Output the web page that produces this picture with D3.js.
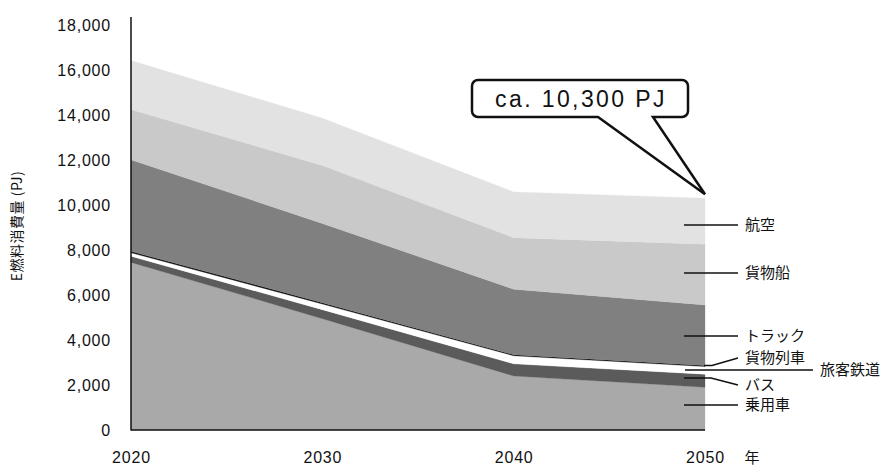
<!DOCTYPE html>
<html>
<head>
<meta charset="utf-8">
<script src="https://cdn.jsdelivr.net/npm/d3@7"></script>
<style>
  html, body { margin: 0; padding: 0; background: #fff; }
  svg { display: block; }
  text { font-family: "Liberation Sans", Arial, "Noto Sans CJK JP", sans-serif; fill: #111; }
  .jp { font-family: "Noto Sans CJK JP", "Liberation Sans", sans-serif; }
</style>
</head>
<body>
<svg id="chart" width="882" height="466"></svg>
<script>
// ---- data ----
const years = [2020, 2030, 2040, 2050];
const seriesNames = ["乗用車", "バス", "旅客鉄道", "貨物列車", "トラック", "貨物船", "航空"];
const passengerCar = [7450, 4950, 2400, 1900];
const bus          = [270, 400, 540, 580];
const passengerRail= [160, 250, 360, 340];
const freightRail  = [60, 60, 50, 50];
const truck        = [4070, 3520, 2910, 2690];
const cargoShip    = [2230, 2580, 2290, 2700];
const aviation     = [2180, 2100, 2030, 2040];
const yTickValues  = [0, 2000, 4000, 6000, 8000, 10000, 12000, 14000, 16000, 18000];
const yAxisTitle   = "E燃料消費量 (PJ)";
const xUnit        = "年";
const calloutText  = "ca. 10,300 PJ";

const seriesValues = [passengerCar, bus, passengerRail, freightRail, truck, cargoShip, aviation];
const colors = ["#a9a9a9", "#5b5b5b", "#ffffff", "#111111", "#808080", "#c9c9c9", "#e2e2e2"];

const table = years.map((yr, i) => {
  const row = { year: yr };
  seriesNames.forEach((s, k) => { row[s] = seriesValues[k][i]; });
  return row;
});

const svg = d3.select("#chart");
const x = d3.scaleLinear().domain([2020, 2050]).range([131, 705]);
const y = d3.scaleLinear().domain([0, 18000]).range([430, 25]);

const stacked = d3.stack().keys(seriesNames)(table);
const area = d3.area()
  .x(d => x(d.data.year))
  .y0(d => y(d[0]))
  .y1(d => y(d[1]));

svg.append("g").selectAll("path")
  .data(stacked)
  .join("path")
  .attr("d", area)
  .attr("fill", (d, i) => colors[i])
  .attr("stroke", (d, i) => colors[i])
  .attr("stroke-width", 0.3);

// axes
const yAxis = d3.axisLeft(y).tickValues(yTickValues).tickSize(0).tickPadding(20)
  .tickFormat(d3.format(","));
const gy = svg.append("g").attr("transform", `translate(${x(2020)},0)`).call(yAxis);
gy.select(".domain").remove();
gy.selectAll("text").attr("font-size", 16).attr("letter-spacing", "0.8px")
  .attr("font-family", "Liberation Sans, Arial, sans-serif").attr("fill", "#111");

const xAxis = d3.axisBottom(x).tickValues(years).tickSize(0).tickPadding(22)
  .tickFormat(d3.format("d"));
const gx = svg.append("g").attr("transform", `translate(0,${y(0)})`).call(xAxis);
gx.select(".domain").remove();
gx.selectAll("text").attr("font-size", 16).attr("letter-spacing", "0.8px")
  .attr("font-family", "Liberation Sans, Arial, sans-serif").attr("fill", "#111");

// axis lines
svg.append("line")
  .attr("x1", x(2020)).attr("x2", x(2020))
  .attr("y1", y(18000) - 8).attr("y2", y(0) + 0.5)
  .attr("stroke", "#111").attr("stroke-width", 1.5);
svg.append("line")
  .attr("x1", x(2020)).attr("x2", x(2050))
  .attr("y1", y(0)).attr("y2", y(0))
  .attr("stroke", "#111").attr("stroke-width", 1.5);

// unit label
svg.append("text").attr("class", "jp")
  .attr("x", 752).attr("y", y(0) + 33)
  .attr("text-anchor", "middle").attr("font-size", 15)
  .text(xUnit);

// y axis title
svg.append("text").attr("class", "jp")
  .attr("transform", `translate(22,226) rotate(-90)`)
  .attr("text-anchor", "middle").attr("font-size", 14)
  .attr("letter-spacing", "0.5px")
  .text(yAxisTitle);

// right-side labels with leader lines
const labelLayout = [
  { name: "航空",     pts: [[684, 225], [738, 225]], tx: 745, ty: 225 },
  { name: "貨物船",   pts: [[684, 273], [738, 273]], tx: 745, ty: 273 },
  { name: "トラック", pts: [[684, 336], [738, 336]], tx: 745, ty: 336 },
  { name: "貨物列車", pts: [[704, 365.5], [712, 365.5], [738, 358]], tx: 745, ty: 358 },
  { name: "旅客鉄道", pts: [[685, 370], [813, 370]], tx: 820, ty: 370 },
  { name: "バス",     pts: [[684, 378], [711, 378], [738, 385]], tx: 745, ty: 385 },
  { name: "乗用車",   pts: [[684, 405], [738, 405]], tx: 745, ty: 405 }
];
const lab = svg.append("g");
labelLayout.forEach(l => {
  lab.append("path")
    .attr("d", d3.line()(l.pts))
    .attr("fill", "none").attr("stroke", "#111").attr("stroke-width", 1.5);
  lab.append("text").attr("class", "jp")
    .attr("x", l.tx).attr("y", l.ty).attr("dy", "0.36em")
    .attr("font-size", 15)
    .text(l.name);
});

// callout
const total2050 = d3.sum(seriesValues, s => s[3]);
const tipX = x(2050), tipY = y(total2050) - 4;
const bx = 472, by = 80, bw = 216, bh = 37, r = 6;
const baseL = 598, baseR = 653;
const callPath = d3.path();
callPath.moveTo(bx + r, by);
callPath.lineTo(bx + bw - r, by);
callPath.arcTo(bx + bw, by, bx + bw, by + r, r);
callPath.lineTo(bx + bw, by + bh - r);
callPath.arcTo(bx + bw, by + bh, bx + bw - r, by + bh, r);
callPath.lineTo(baseR, by + bh);
callPath.lineTo(tipX, tipY);
callPath.lineTo(baseL, by + bh);
callPath.lineTo(bx + r, by + bh);
callPath.arcTo(bx, by + bh, bx, by + bh - r, r);
callPath.lineTo(bx, by + r);
callPath.arcTo(bx, by, bx + r, by, r);
callPath.closePath();
svg.append("path").attr("d", callPath.toString())
  .attr("fill", "#fff").attr("stroke", "#111").attr("stroke-width", 2.5)
  .attr("stroke-linejoin", "miter");
svg.append("text")
  .attr("x", bx + bw / 2 + 1).attr("y", by + 27)
  .attr("text-anchor", "middle").attr("font-size", 23)
  .attr("letter-spacing", "2.4px")
  .attr("font-family", "Liberation Sans, Arial, sans-serif")
  .text(calloutText);
</script>
</body>
</html>
